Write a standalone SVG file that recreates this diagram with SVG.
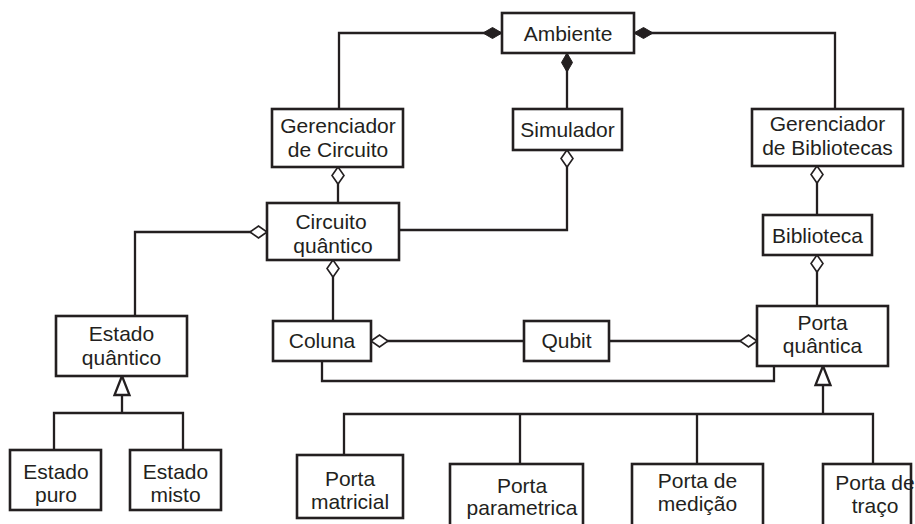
<svg xmlns="http://www.w3.org/2000/svg" width="915" height="524" viewBox="0 0 915 524">
<style>
.box{fill:#fff;stroke:#231f20;stroke-width:2.6}
.t{font-family:"Liberation Sans",Arial,sans-serif;font-size:21px;fill:#231f20;text-anchor:middle}
.c{fill:none;stroke:#231f20;stroke-width:2.3}
.comp{marker-start:url(#filled)}
.agg{marker-start:url(#hollow)}
.gen{marker-start:url(#tri)}
</style>
<defs>
<marker id="filled" markerUnits="userSpaceOnUse" orient="auto" refX="0" refY="0" markerWidth="30" markerHeight="30" overflow="visible">
<path d="M0,0 L9.5,-5.5 L19,0 L9.5,5.5 Z" fill="#231f20" stroke="#231f20" stroke-width="1"/>
</marker>
<marker id="hollow" markerUnits="userSpaceOnUse" orient="auto" refX="0" refY="0" markerWidth="30" markerHeight="30" overflow="visible">
<path d="M0,0 L8.5,-6 L17,0 L8.5,6 Z" fill="#fff" stroke="#231f20" stroke-width="1.6"/>
</marker>
<marker id="tri" markerUnits="userSpaceOnUse" orient="auto" refX="0" refY="0" markerWidth="30" markerHeight="30" overflow="visible">
<path d="M0,0 L19,-7.5 L19,7.5 Z" fill="#fff" stroke="#231f20" stroke-width="2.3" stroke-linejoin="miter"/>
</marker>
</defs>
<rect width="915" height="524" fill="#fff"/>
<g id="connectors">
<path class="c comp" d="M502,33 H339 V109"/>
<path class="c comp" d="M567,53 V109"/>
<path class="c comp" d="M634,33 H835 V109"/>
<path class="c agg" d="M338,167 V203"/>
<path class="c agg" d="M567,150 V230 H399"/>
<path class="c agg" d="M817,166 V215"/>
<path class="c agg" d="M817,255 V306"/>
<path class="c agg" d="M267,232 H135 V316"/>
<path class="c agg" d="M333,260 V321"/>
<path class="c agg" d="M371,341 H524"/>
<path class="c agg" d="M757,341 H609"/>
<path class="c" d="M322,361 V381 H774 V366"/>
<path class="c gen" d="M823,366 V414"/>
<path class="c" d="M344,455 V414 H873 V464"/>
<path class="c" d="M520,414 V464"/>
<path class="c" d="M697,414 V464"/>
<path class="c gen" d="M122,376 V413"/>
<path class="c" d="M54,450 V413 H183 V450"/>
</g>
<g id="ambiente"><rect class="box" x="502" y="13" width="132" height="40"/><text class="t" x="568" y="41">Ambiente</text></g>
<g id="gerenciador-circuito"><rect class="box" x="272" y="109" width="131" height="58"/><text class="t" x="338" y="133">Gerenciador</text><text class="t" x="338" y="157">de Circuito</text></g>
<g id="simulador"><rect class="box" x="513" y="109" width="109" height="41"/><text class="t" x="567.5" y="137">Simulador</text></g>
<g id="gerenciador-bibliotecas"><rect class="box" x="752" y="109" width="151" height="57"/><text class="t" x="827.5" y="131">Gerenciador</text><text class="t" x="827.5" y="155">de Bibliotecas</text></g>
<g id="circuito-quantico"><rect class="box" x="267" y="203" width="132" height="57"/><text class="t" x="331" y="229">Circuito</text><text class="t" x="333" y="253">quântico</text></g>
<g id="biblioteca"><rect class="box" x="763" y="215" width="109" height="40"/><text class="t" x="817.5" y="243">Biblioteca</text></g>
<g id="estado-quantico"><rect class="box" x="56" y="316" width="131" height="60"/><text class="t" x="121.5" y="341">Estado</text><text class="t" x="121.5" y="365">quântico</text></g>
<g id="coluna"><rect class="box" x="273" y="321" width="98" height="40"/><text class="t" x="322" y="348">Coluna</text></g>
<g id="qubit"><rect class="box" x="524" y="321" width="85" height="40"/><text class="t" x="566.5" y="348">Qubit</text></g>
<g id="porta-quantica"><rect class="box" x="757" y="306" width="131" height="60"/><text class="t" x="822.5" y="330">Porta</text><text class="t" x="822.5" y="353">quântica</text></g>
<g id="estado-puro"><rect class="box" x="10" y="450" width="91" height="60"/><text class="t" x="56" y="479">Estado</text><text class="t" x="56" y="502">puro</text></g>
<g id="estado-misto"><rect class="box" x="130" y="450" width="91" height="60"/><text class="t" x="175.5" y="479">Estado</text><text class="t" x="175.5" y="502">misto</text></g>
<g id="porta-matricial"><rect class="box" x="297" y="455" width="106" height="63"/><text class="t" x="350" y="486">Porta</text><text class="t" x="350" y="509">matricial</text></g>
<g id="porta-parametrica"><rect class="box" x="450" y="464" width="133" height="70"/><text class="t" x="522" y="493">Porta</text><text class="t" x="522" y="515">parametrica</text></g>
<g id="porta-medicao"><rect class="box" x="632" y="464" width="131" height="70"/><text class="t" x="697.5" y="488">Porta de</text><text class="t" x="697.5" y="511">medição</text></g>
<g id="porta-traco"><rect class="box" x="823" y="464" width="88" height="70"/><text class="t" x="875" y="490">Porta de</text><text class="t" x="875" y="513">traço</text></g>
</svg>
